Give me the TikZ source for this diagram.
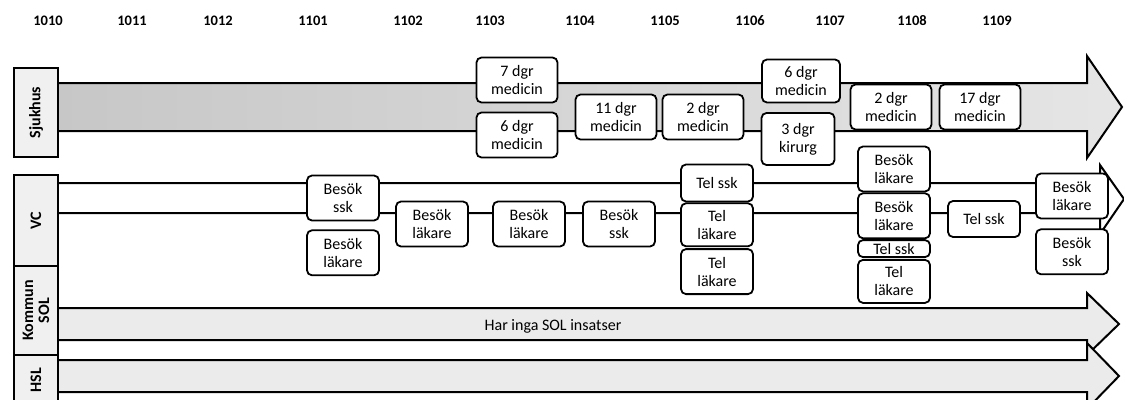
\documentclass[tikz,border=0pt]{standalone}
\usepackage{fontspec}
\setmainfont{Carlito}
\usetikzlibrary{positioning}

\begin{document}
\begin{tikzpicture}[
  x=1pt, y=-1pt, node distance=0pt,
  ev/.style={rectangle, rounded corners=5pt, draw, line width=1.8pt, fill=white,
             align=center, minimum width=72pt, minimum height=45pt,
             inner sep=1pt, font=\fontsize{16}{18}\selectfont},
  wide/.style={ev, minimum width=81pt},
  row/.style={rectangle, draw, line width=1.8pt, fill=black!6, minimum height=44pt,
              align=center, inner sep=0pt, rotate=90,
              font=\bfseries\fontsize{16}{16}\selectfont},
  lane/.style={draw, line width=2pt, line join=miter},
  year/.style={anchor=base, font=\bfseries\fontsize{14.5}{14.5}\selectfont}
]
  \useasboundingbox (0,0) rectangle (1124,399);

  \foreach \yr/\xx in {1010/48, 1011/132, 1012/218, 1101/313, 1102/408, 1103/490,
                       1104/580, 1105/665, 1106/750, 1107/830, 1108/912, 1109/997}
    \node[year] (y\yr) at (\xx,25) {\yr};

  \draw[lane, left color=black!22, right color=black!10] (50,83) -- (1087,83)
    -- (1087,56) -- (1122,107) -- (1087,158) -- (1087,131) -- (50,131) -- cycle;
  \draw[lane, fill=white] (50,183) -- (1100,183) -- (1100,165) -- (1124,199)
    -- (1100,234) -- (1100,213) -- (50,213) -- cycle;
  \draw[lane, fill=black!8] (50,308) -- (1087,308) -- (1087,293) -- (1119,324)
    -- (1087,355) -- (1087,340) -- (50,340) -- cycle;
  \draw[lane, fill=black!8] (50,360) -- (1087,360) -- (1087,343) -- (1119,376)
    -- (1087,409) -- (1087,392) -- (50,392) -- cycle;

  \node[row, minimum width=89pt] (sjukhus) at (36,112.5) {Sjukhus};
  \node[row, minimum width=91pt] (vc) at (36,220.5) {VC};
  \node[row, minimum width=89pt] (kommun) at (36,310.5) {Kommun\\SOL};
  \node[row, minimum width=50pt] (hsl) at (36,380) {HSL};

  \node[wide] (s1a) at (517,80) {7 dgr\\medicin};
  \node[wide] (s1b) at (517,135) {6 dgr\\medicin};
  \node[wide] (s2) at (616,117) {11 dgr\\medicin};
  \node[wide] (s3) at (703,117) {2 dgr\\medicin};
  \node[wide, minimum width=78pt, minimum height=43pt] (s4a) at (801,81) {6 dgr\\medicin};
  \node[ev, minimum width=73pt, minimum height=52pt] (s4b) at (798,139) {3 dgr\\kirurg};
  \node[wide] (s5) at (891,107) {2 dgr\\medicin};
  \node[wide] (s6) at (980,107) {17 dgr\\medicin};

  \node[ev] (v1a) at (343,198) {Besök\\ssk};
  \node[ev, below=8pt of v1a] (v1b) {Besök\\läkare};
  \node[ev] (v2) at (432,224) {Besök\\läkare};
  \node[ev] (v3) at (529,224) {Besök\\läkare};
  \node[ev] (v4) at (619,224) {Besök\\ssk};
  \node[ev, minimum height=37pt] (v5a) at (717,183) {Tel ssk};
  \node[ev, below=of v5a, minimum height=43pt] (v5b) {Tel\\läkare};
  \node[ev, below=1pt of v5b] (v5c) {Tel\\läkare};
  \node[ev] (v6a) at (894,169) {Besök\\läkare};
  \node[ev, below=of v6a] (v6b) {Besök\\läkare};
  \node[ev, below=of v6b, minimum height=17pt] (v6c) {Tel ssk};
  \node[ev, below=1pt of v6c, minimum height=43pt] (v6d) {Tel\\läkare};
  \node[ev, minimum height=36pt] (v7) at (984,219) {Tel ssk};
  \node[ev] (v8a) at (1072,196) {Besök\\läkare};
  \node[ev, below=9pt of v8a] (v8b) {Besök\\ssk};

  \node[font=\fontsize{16}{18}\selectfont] (sol) at (553,326) {Har inga SOL insatser};
\end{tikzpicture}
\end{document}
